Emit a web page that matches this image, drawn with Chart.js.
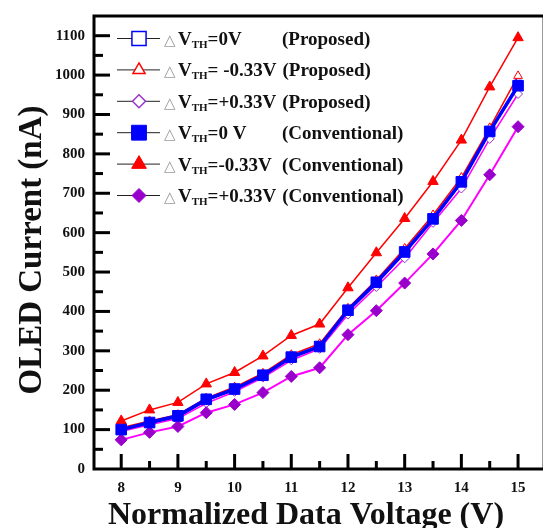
<!DOCTYPE html>
<html>
<head>
<meta charset="utf-8">
<script src="https://cdn.jsdelivr.net/npm/chart.js@4"></script>
<style>
  html, body { margin: 0; padding: 0; background: #fff; }
</style>
</head>
<body>
<canvas id="grafico" width="544" height="528"></canvas>
<script>
// Corriente OLED vs. voltaje de datos normalizado, propuesto vs. convencional
var voltajes = [8, 8.5, 9, 9.5, 10, 10.5, 11, 11.5, 12, 12.5, 13, 13.5, 14, 14.5, 15];

var propCero  = [98, 116, 131, 173, 201, 236, 282, 310, 400, 470, 548, 632, 726, 855, 977];
var propMenos = [105, 122, 138, 180, 208, 243, 290, 318, 408, 480, 560, 645, 740, 866, 998];
var propMas   = [95, 112, 128, 167, 196, 232, 276, 305, 392, 462, 535, 625, 712, 838, 952];
var convCero  = [100, 118, 135, 177, 203, 238, 284, 311, 403, 474, 551, 635, 729, 857, 973];
var convMenos = [122, 150, 169, 216, 245, 287, 339, 368, 460, 549, 636, 730, 835, 970, 1095];
var convMas   = [74, 93, 108, 143, 164, 194, 235, 257, 341, 402, 472, 546, 631, 747, 869];

var ticksX = [8, 9, 10, 11, 12, 13, 14, 15];
var ticksY = [0, 100, 200, 300, 400, 500, 600, 700, 800, 900, 1000, 1100];

var leyendaValor = ['=0V', '= -0.33V', '=+0.33V', '=0 V', '=-0.33V', '=+0.33V'];
var leyendaNota = ['(Proposed)', '(Proposed)', '(Proposed)', '(Conventional)', '(Conventional)', '(Conventional)'];

var tituloX = 'Normalized Data Voltage (V)';
var tituloY = 'OLED Current (nA)';

var SERIF = '"Liberation Serif", "Times New Roman", serif';

function puntos(vals) {
  return vals.map(function (v, i) { return { x: voltajes[i], y: v }; });
}

function serie(vals, o) {
  return {
    data: puntos(vals),
    borderColor: o.linea,
    borderWidth: o.ancho,
    pointStyle: o.forma,
    pointRadius: o.radio,
    pointBackgroundColor: o.relleno,
    pointBorderColor: o.borde,
    pointBorderWidth: 1,
    tension: 0,
    order: o.orden,
    clip: false
  };
}

// radioLey: tamaño del símbolo en la leyenda
var estilos = [
  { linea: '#0000ff', ancho: 1.5, forma: 'rect', radio: 5.5, radioLey: 10, relleno: '#ffffff', borde: '#0000ff', orden: 3 },
  { linea: '#ff0000', ancho: 1.5, forma: 'triangle', radio: 5, radioLey: 7, relleno: '#ffffff', borde: '#ff0000', orden: 4 },
  { linea: '#ff00ff', ancho: 1.5, forma: 'rectRot', radio: 4.5, radioLey: 6.5, relleno: '#ffffff', borde: '#9933cc', orden: 2 },
  { linea: '#0000ff', ancho: 3.5, forma: 'rect', radio: 7.5, radioLey: 10.5, relleno: '#0000ff', borde: '#0000ff', orden: 0 },
  { linea: '#ff0000', ancho: 1.5, forma: 'triangle', radio: 6, radioLey: 8.5, relleno: '#ff0000', borde: '#ff0000', orden: 5 },
  { linea: '#ff00ff', ancho: 2, forma: 'rectRot', radio: 6, radioLey: 7, relleno: '#9900cc', borde: '#9900cc', orden: 1 }
];
var valores = [propCero, propMenos, propMas, convCero, convMenos, convMas];

// ---- Ejes, marcas internas, títulos y leyenda ----
var decorado = {
  id: 'decorado',
  afterDatasetsDraw: function (chart) {
    var ctx = chart.ctx, a = chart.chartArea;
    var sx = chart.scales.x, sy = chart.scales.y;
    ctx.save();
    // marco
    ctx.strokeStyle = '#999';
    ctx.lineWidth = 1;
    ctx.beginPath(); ctx.moveTo(a.right - 0.5, a.top); ctx.lineTo(a.right - 0.5, a.bottom); ctx.stroke();
    ctx.strokeStyle = '#000';
    ctx.lineWidth = 3;
    ctx.beginPath();
    ctx.moveTo(a.right, a.top); ctx.lineTo(a.left, a.top);
    ctx.lineTo(a.left, a.bottom); ctx.lineTo(a.right, a.bottom);
    ctx.stroke();
    // marcas del eje X (hacia dentro)
    for (var v = 8; v <= 15; v += 0.5) {
      var px = sx.getPixelForValue(v);
      var largo = (v % 1 === 0) ? 15 : 8;
      ctx.beginPath(); ctx.moveTo(px, a.bottom); ctx.lineTo(px, a.bottom - largo); ctx.stroke();
    }
    // marcas del eje Y
    for (var w = 50; w <= 1100; w += 50) {
      var py = sy.getPixelForValue(w);
      var l = (w % 100 === 0) ? 16 : 9;
      ctx.beginPath(); ctx.moveTo(a.left, py); ctx.lineTo(a.left + l, py); ctx.stroke();
    }
    // títulos
    ctx.fillStyle = '#111';
    ctx.font = 'bold 32px ' + SERIF;
    ctx.textAlign = 'center';
    ctx.textBaseline = 'alphabetic';
    ctx.fillText(tituloX, 306, 524);
    ctx.save();
    ctx.translate(41, 250);
    ctx.rotate(-Math.PI / 2);
    ctx.font = 'bold 33px ' + SERIF;
    ctx.fillText(tituloY, 0, 0);
    ctx.restore();

    // leyenda
    ctx.textAlign = 'left';
    for (var i = 0; i < 6; i++) {
      var base = 45 + i * 31.4;
      var cy = base - 6.5;
      ctx.strokeStyle = '#222';
      ctx.lineWidth = 1;
      ctx.beginPath(); ctx.moveTo(117, cy); ctx.lineTo(160, cy); ctx.stroke();
      var e = estilos[i];
      ctx.fillStyle = e.relleno;
      ctx.strokeStyle = e.borde;
      ctx.lineWidth = i < 3 ? 1.5 : 1;
      Chart.helpers.drawPoint(ctx, { pointStyle: e.forma, radius: e.radioLey, borderWidth: ctx.lineWidth }, 139, cy);
      ctx.fillStyle = '#999';
      ctx.font = '15px "DejaVu Sans", sans-serif';
      ctx.fillText('\u25B3', 164, base);
      ctx.fillStyle = '#111';
      ctx.font = 'bold 19px ' + SERIF;
      ctx.fillText('V', 178, base);
      var xv = 178 + ctx.measureText('V').width;
      ctx.font = 'bold 11px ' + SERIF;
      ctx.fillText('TH', xv, base + 3);
      xv += ctx.measureText('TH').width;
      ctx.font = 'bold 19px ' + SERIF;
      ctx.fillText(leyendaValor[i], xv, base);
      xv += ctx.measureText(leyendaValor[i]).width;
      ctx.fillText(leyendaNota[i], Math.max(282, xv + 6), base);
    }
    ctx.restore();
  }
};

var sinComa = function (v) { return String(v); };

new Chart(document.getElementById('grafico').getContext('2d'), {
  type: 'line',
  data: {
    datasets: valores.map(function (vals, i) { return serie(vals, estilos[i]); })
  },
  options: {
    responsive: false,
    devicePixelRatio: 1,
    animation: false,
    layout: { autoPadding: false, padding: { top: 16, right: 1, left: 0, bottom: 0 } },
    plugins: { legend: { display: false }, tooltip: { enabled: false } },
    scales: {
      x: {
        type: 'linear',
        min: 7.52,
        max: 15.44,
        grid: { display: false, drawTicks: false },
        border: { display: false },
        afterBuildTicks: function (s) { s.ticks = ticksX.map(function (v) { return { value: v }; }); },
        afterFit: function (s) { s.height = 59; s.paddingLeft = 0; s.paddingRight = 0; },
        ticks: { color: '#111', padding: 10, maxRotation: 0, callback: sinComa, font: { family: SERIF, size: 15, weight: 'bold' } }
      },
      y: {
        min: 0,
        max: 1150,
        grid: { display: false, drawTicks: false },
        border: { display: false },
        afterBuildTicks: function (s) { s.ticks = ticksY.map(function (v) { return { value: v }; }); },
        afterFit: function (s) { s.width = 94; s.paddingTop = 0; s.paddingBottom = 0; },
        ticks: { color: '#111', padding: 9, callback: sinComa, font: { family: SERIF, size: 15, weight: 'bold' } }
      }
    }
  },
  plugins: [decorado]
});
</script>
</body>
</html>
